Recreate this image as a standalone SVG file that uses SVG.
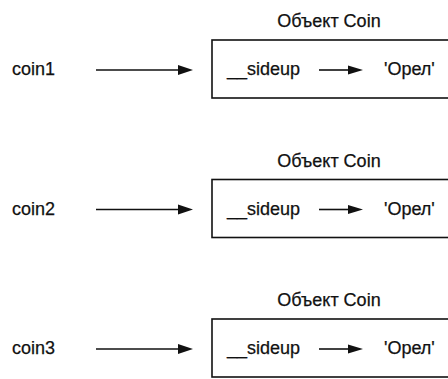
<svg xmlns="http://www.w3.org/2000/svg" width="448" height="379" viewBox="0 0 448 379">
<defs>
<style>
text{font-family:"Liberation Sans",Arial,sans-serif;font-size:18px;fill:#111;stroke:#111;stroke-width:0.25}
.box{fill:none;stroke:#111;stroke-width:1.6}
.ln{stroke:#111;stroke-width:1.6;fill:none}
.hd{fill:#111}
</style>
</defs>
<rect width="448" height="379" fill="#fff"/>
<g id="coin1"><text x="12" y="75">coin1</text></g>
<g id="coin2"><text x="12" y="214.5">coin2</text></g>
<g id="coin3"><text x="12" y="354">coin3</text></g>
<g id="obj1">
<text x="329" y="27" text-anchor="middle">Объект Coin</text>
<rect class="box" x="212" y="40" width="260" height="58"/>
<text x="227" y="75">__sideup</text>
<text x="384" y="75">'Орел'</text>
</g>
<g id="obj2">
<text x="329" y="166.5" text-anchor="middle">Объект Coin</text>
<rect class="box" x="212" y="179.5" width="260" height="58"/>
<text x="227" y="214.5">__sideup</text>
<text x="384" y="214.5">'Орел'</text>
</g>
<g id="obj3">
<text x="329" y="306" text-anchor="middle">Объект Coin</text>
<rect class="box" x="212" y="319" width="260" height="58"/>
<text x="227" y="354">__sideup</text>
<text x="384" y="354">'Орел'</text>
</g>
<g id="connectors">
<path class="ln" d="M96,70 H180"/><path class="hd" d="M178,65 L193,70 L178,75 Z"/>
<path class="ln" d="M96,209.5 H180"/><path class="hd" d="M178,204.5 L193,209.5 L178,214.5 Z"/>
<path class="ln" d="M96,349 H180"/><path class="hd" d="M178,344 L193,349 L178,354 Z"/>
<path class="ln" d="M319,70 H350"/><path class="hd" d="M348,65.5 L363,70 L348,74.5 Z"/>
<path class="ln" d="M319,209.5 H350"/><path class="hd" d="M348,205 L363,209.5 L348,214 Z"/>
<path class="ln" d="M319,349 H350"/><path class="hd" d="M348,344.5 L363,349 L348,353.5 Z"/>
</g>
</svg>
